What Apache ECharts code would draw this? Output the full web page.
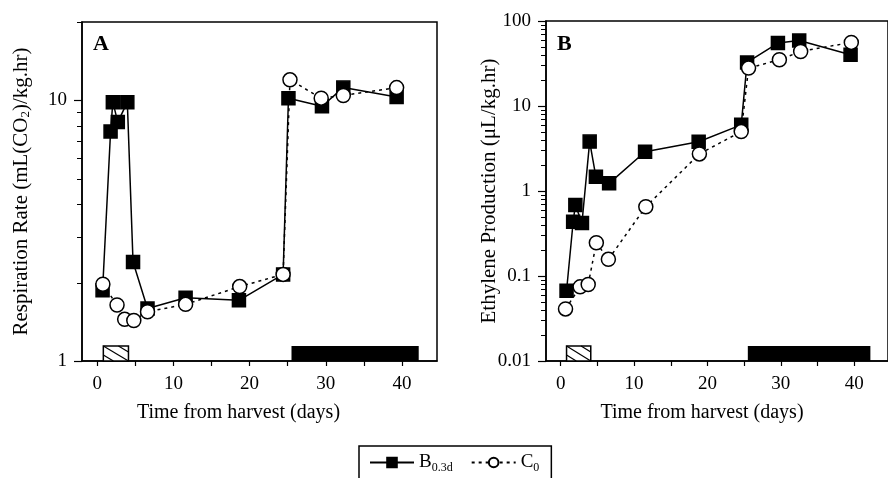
<!DOCTYPE html>
<html><head><meta charset="utf-8">
<script src="https://cdn.jsdelivr.net/npm/echarts@6/dist/echarts.min.js"></script>
<style>html,body{margin:0;padding:0;background:#fff}#c{width:888px;height:478px}</style>
</head><body><div id="c"></div>
<script>
// ---- Panel A: respiration rate ----
const respDaysB = [0.7, 1.75, 2.05, 2.7, 3.95, 4.7, 6.6, 11.6, 18.6, 24.4, 25.1, 29.5, 32.3, 39.3];
const respB     = [1.87, 7.6, 9.85, 8.26, 9.85, 2.4, 1.59, 1.75, 1.71, 2.15, 10.2, 9.5, 11.2, 10.3];
const respDaysC = [0.74, 2.6, 3.6, 4.8, 6.6, 11.6, 18.7, 24.4, 25.3, 29.4, 32.3, 39.3];
const respC     = [1.97, 1.64, 1.445, 1.43, 1.545, 1.65, 1.93, 2.15, 12.0, 10.2, 10.45, 11.2];
// ---- Panel B: ethylene production ----
const ethDaysB = [0.8, 1.7, 2.0, 2.9, 3.95, 4.8, 6.6, 11.5, 18.8, 24.6, 25.4, 29.6, 32.5, 39.5];
const ethB     = [0.067, 0.435, 0.684, 0.42, 3.81, 1.47, 1.23, 2.9, 3.8, 6.0, 32.5, 55, 59, 40];
const ethDaysC = [0.66, 2.65, 3.75, 4.86, 6.5, 11.6, 18.9, 24.6, 25.6, 29.8, 32.7, 39.6];
const ethC     = [0.041, 0.0745, 0.0795, 0.246, 0.157, 0.653, 2.73, 5.0, 27.9, 35, 43.8, 56];
// ---- storage periods (days) ----
const hatchPeriod = [0.8, 4.1];
const darkPeriod  = [25.5, 42.2];
// ---- ticks ----
const xLabelValues = [0, 10, 20, 30, 40];
const xTickValues  = [0, 5, 10, 15, 20, 25, 30, 35, 40];
const respMajor = [1, 10];
const respMinor = [2, 3, 4, 5, 6, 7, 8, 9, 20];
const ethMajor  = [0.01, 0.1, 1, 10, 100];
const ethMinor  = [0.02,0.03,0.04,0.05,0.06,0.07,0.08,0.09,0.2,0.3,0.4,0.5,0.6,0.7,0.8,0.9,2,3,4,5,6,7,8,9,20,30,40,50,60,70,80,90];
const seriesNames = ['B0.3d', 'C0'];

const FONT = 'Liberation Serif';
const X_MIN = -2, X_MAX = 44.6;
const zip = (a, b) => a.map((v, i) => [v, b[i]]);

function xAxis(grid, namePad) {
  return {
    type: 'value', gridIndex: grid, min: X_MIN, max: X_MAX, position: 'bottom',
    name: 'Time from harvest (days)', nameLocation: 'middle', nameGap: 42,
    nameTextStyle: { fontFamily: FONT, fontSize: 20, color: '#000', padding: namePad },
    axisLine: { show: true, onZero: false, lineStyle: { color: '#000', width: 1.5 } },
    axisTick: { show: true, inside: false, length: 5, customValues: xTickValues, lineStyle: { color: '#000', width: 1.2 } },
    axisLabel: { customValues: xLabelValues, fontFamily: FONT, fontSize: 19, color: '#000', margin: 14 },
    splitLine: { show: false }
  };
}
function yAxis(grid, min, max, major, name, nameGap) {
  return {
    type: 'log', gridIndex: grid, min: min, max: max, logBase: 10, position: 'left',
    name: name, nameLocation: 'middle', nameGap: nameGap, nameMoveOverlap: false,
    nameTextStyle: { fontFamily: FONT, fontSize: 21, color: '#000',
      rich: { n: { fontFamily: FONT, fontSize: 21, color: '#000' },
              s: { fontFamily: FONT, fontSize: 13, color: '#000', padding: [9, 0, 0, 0] } } },
    axisLine: { show: true, onZero: false, lineStyle: { color: '#000', width: 1.5 } },
    axisTick: { show: true, length: 8, customValues: major, lineStyle: { color: '#000', width: 1.2 } },
    axisLabel: { customValues: major, fontFamily: FONT, fontSize: 19, color: '#000', margin: 15, formatter: v => String(v) },
    splitLine: { show: false }
  };
}

function periodRender(params, api) {
  const x0 = api.coord([api.value(0), 1])[0];
  const x1 = api.coord([api.value(1), 1])[0];
  const cs = params.coordSys;
  const yb = cs.y + cs.height;
  const h = 15, y0 = yb - h, w = x1 - x0;
  if (params.dataIndex === 1) {
    return { type: 'rect', shape: { x: x0, y: y0, width: w, height: h }, style: { fill: '#000' } };
  }
  const children = [{ type: 'rect', shape: { x: x0, y: y0, width: w, height: h }, style: { fill: '#fff', stroke: '#000', lineWidth: 1.5 } }];
  [-0.6, 0, 0.6].forEach(f => {
    const d = f * w;
    let sx, sy, ex, ey;
    if (d >= 0) { sx = x0 + d; sy = y0; ex = x1; ey = y0 + (x1 - sx) / w * h; }
    else { sx = x0; sy = y0 + (-d) / w * h; ex = x0 + d + w; ey = yb; }
    children.push({ type: 'line', shape: { x1: sx, y1: sy, x2: ex, y2: ey }, style: { stroke: '#000', lineWidth: 1.2 } });
  });
  return { type: 'group', children: children };
}

function lineSeries(name, data, xi, yi) {
  const isB = name === seriesNames[0];
  return {
    name: name, type: 'line', xAxisIndex: xi, yAxisIndex: yi, data: data,
    symbol: isB ? 'rect' : 'circle', symbolSize: isB ? 13 : 14,
    z: isB ? 3 : 4,
    itemStyle: { color: isB ? '#000' : '#fff', borderColor: '#000', borderWidth: 1.5, opacity: 1 },
    lineStyle: { color: '#000', width: 1.5, type: isB ? 'solid' : [3, 4] },
    emphasis: { disabled: true }, animation: false
  };
}

const labelGraphics = [
  { type: 'text', left: 93, top: 33, z: 100, style: { text: 'A', font: 'bold 22px "Liberation Serif"', fill: '#000' } },
  { type: 'text', left: 557, top: 33, z: 100, style: { text: 'B', font: 'bold 22px "Liberation Serif"', fill: '#000' } }
];

const chart = echarts.init(document.getElementById('c'), null, { renderer: 'canvas' });
chart.setOption({
  backgroundColor: '#fff',
  animation: false,
  grid: [
    { left: 82, top: 22, width: 355, height: 339, show: true, borderColor: '#000', borderWidth: 1.5, backgroundColor: 'transparent' },
    { left: 546, top: 21, width: 352, height: 340, show: true, borderColor: '#000', borderWidth: 1.5, backgroundColor: 'transparent' }
  ],
  xAxis: [xAxis(0, [0, 42, 0, 0]), xAxis(1, [0, 30, 0, 0])],
  yAxis: [
    yAxis(0, 1, 20, respMajor, '{n|Respiration Rate (mL(CO}{s|2}{n|)/kg.hr)}', 50),
    yAxis(1, 0.01, 100, ethMajor, 'Ethylene Production (μL/kg.hr)', 46)
  ],
  legend: {
    data: seriesNames, left: 359, top: 446,
    borderColor: '#000', borderWidth: 1.5, padding: [7, 12, 30, 10],
    itemWidth: 44, itemHeight: 12, itemGap: 18,
    textStyle: { fontFamily: FONT, fontSize: 19, color: '#000',
      rich: { m: { fontFamily: FONT, fontSize: 19, color: '#000' },
              s: { fontFamily: FONT, fontSize: 12, color: '#000', padding: [10, 0, 0, 0] } } },
    formatter: n => n === seriesNames[0] ? '{m|B}{s|0.3d}' : '{m|C}{s|0}'
  },
  graphic: labelGraphics,
  series: [
    { type: 'custom', xAxisIndex: 0, yAxisIndex: 0, data: [hatchPeriod, darkPeriod], encode: { x: [0, 1] }, renderItem: periodRender, silent: true, z: 1 },
    { type: 'custom', xAxisIndex: 1, yAxisIndex: 1, data: [hatchPeriod, darkPeriod], encode: { x: [0, 1] }, renderItem: periodRender, silent: true, z: 1 },
    lineSeries(seriesNames[0], zip(respDaysB, respB), 0, 0),
    lineSeries(seriesNames[1], zip(respDaysC, respC), 0, 0),
    lineSeries(seriesNames[0], zip(ethDaysB, ethB), 1, 1),
    lineSeries(seriesNames[1], zip(ethDaysC, ethC), 1, 1)
  ]
});

// y-axis minor ticks placed through the y axes' own log scales
function tickLines(gridIdx, values, len, lw) {
  const out = [];
  values.forEach(v => {
    let p = null;
    try { p = chart.convertToPixel({ gridIndex: gridIdx }, [X_MIN, v]); } catch (e) { p = null; }
    if (!p || !isFinite(p[0]) || !isFinite(p[1])) {
      try {
        const py = chart.convertToPixel({ yAxisIndex: gridIdx }, v);
        const px = chart.convertToPixel({ xAxisIndex: gridIdx }, X_MIN);
        p = [px, py];
      } catch (e) { p = null; }
    }
    if (p && isFinite(p[0]) && isFinite(p[1])) {
      const y = Math.round(p[1]) + 0.5;
      out.push({ type: 'line', silent: true, z: 100, zlevel: 1,
                 shape: { x1: p[0] - len, y1: y, x2: p[0], y2: y },
                 style: { stroke: '#000', lineWidth: lw } });
    }
  });
  return out;
}
const tickGraphics = [].concat(tickLines(0, respMinor, 5, 1), tickLines(1, ethMinor, 5, 1));
chart.setOption({ graphic: labelGraphics.concat(tickGraphics) });
</script></body></html>
